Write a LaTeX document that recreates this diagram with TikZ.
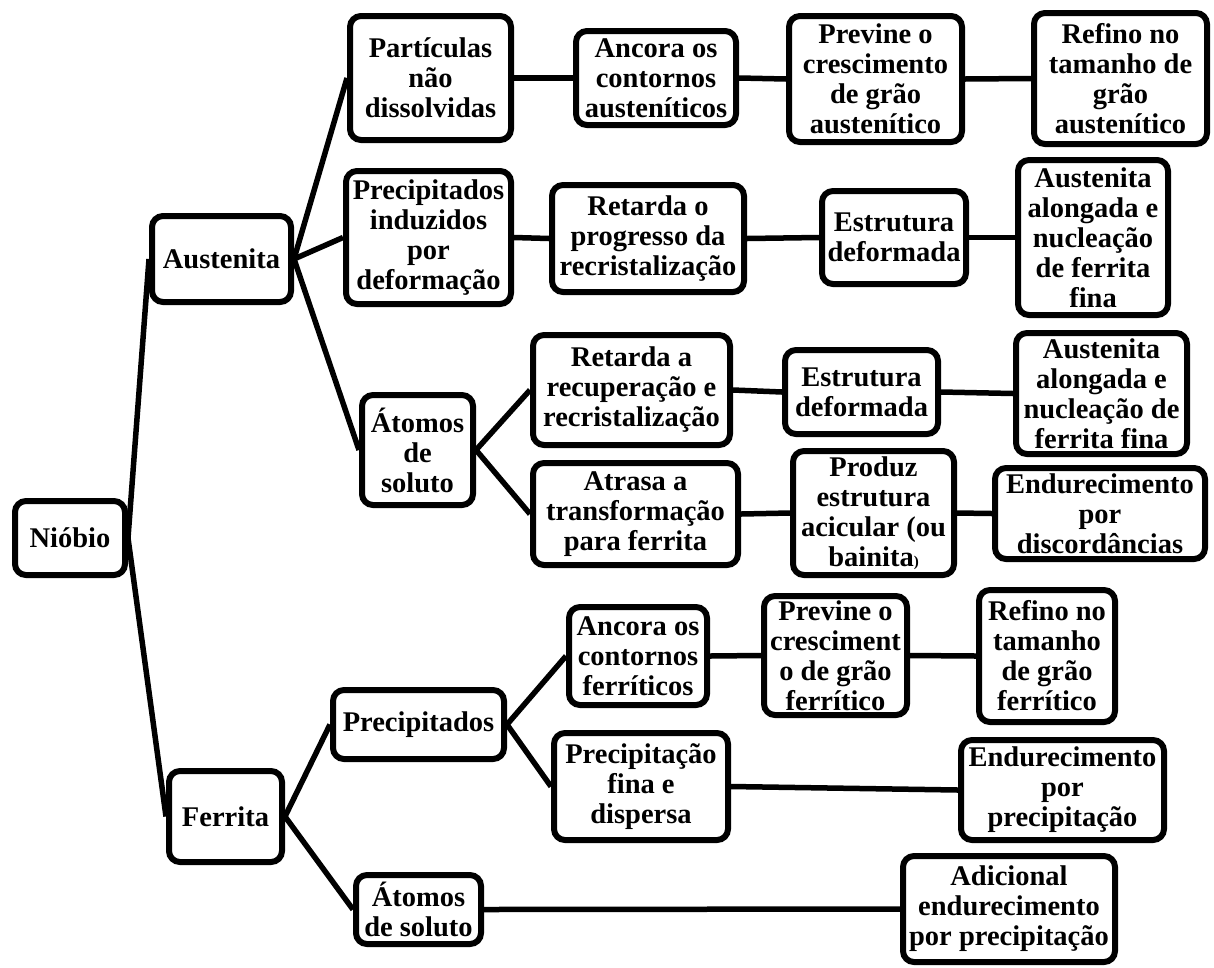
\documentclass[tikz,border=0pt]{standalone}
\usepackage{fontspec}
\setmainfont{Liberation Serif}
\usepackage{tikz}

\tikzset{
  box/.style={draw, line width=6pt, rounded corners=11pt, fill=white, align=center,
    inner sep=1pt, font=\bfseries\fontsize{28.5}{30}\selectfont},
  link/.style={line width=5.5pt}
}

\begin{document}
\begin{tikzpicture}[x=1pt,y=-1pt]
        \useasboundingbox (0,0) rectangle (1214,967);
        \node [box, minimum width=110, minimum height=74] (niobio) at (70,538) {Nióbio};
        \node [box, minimum width=139, minimum height=86] (austenita) at (221.5,259) {Austenita};
        \node [box, minimum width=113, minimum height=91] (ferrita) at (225.5,816.5) {Ferrita};

        \node [box, minimum width=161, minimum height=124] (particulas) at (430.5,78) {Partículas\\não\\dissolvidas};
        \node [box, minimum width=165, minimum height=133] (precind) at (428.5,237.5) {Precipitados\\induzidos\\por\\deformação};
        \node [box, minimum width=111, minimum height=110] (atomosA) at (417.5,450) {Átomos\\de\\soluto};
        \node [box, minimum width=171, minimum height=69] (precF) at (418.5,724.5) {Precipitados};
        \node [box, minimum width=125, minimum height=69] (atomosF) at (418.5,909.5) {Átomos\\de soluto};

        \node [box, minimum width=160, minimum height=94] (ancoraA) at (656,78) {Ancora os\\contornos\\austeníticos};
        \node [box, minimum width=173, minimum height=126] (previneA) at (875.5,79) {Previne o\\crescimento\\de grão\\austenítico};
        \node [box, minimum width=173, minimum height=131] (refinoA) at (1120.5,78.5) {Refino no\\tamanho de\\grão\\austenítico};

        \node [box, minimum width=192, minimum height=107] (retardaP) at (648,238.5) {Retarda o\\progresso da\\recristalização};
        \node [box, minimum width=144, minimum height=93] (estrA) at (894,237.5) {Estrutura\\deformada};
        \node [box, minimum width=150, minimum height=155] (alongA) at (1093,237.5) {Austenita\\alongada e\\nucleação\\de ferrita\\fina};

        \node [box, minimum width=197, minimum height=110] (retardaR) at (631.5,390) {Retarda a\\recuperação e\\recristalização};
        \node [box, minimum width=153, minimum height=84] (estrB) at (861.5,392) {Estrutura\\deformada};
        \node [box, minimum width=171, minimum height=121] (alongB) at (1101.5,393.5) {Austenita\\alongada e\\nucleação de\\ferrita fina};

        \node [box, minimum width=205, minimum height=102] (atrasa) at (635.5,514) {Atrasa a\\transformação\\para ferrita};
        \node [box, minimum width=161, minimum height=124] (produz) at (873.5,513) {Produz\\estrutura\\acicular (ou\\bainita{\fontsize{15}{15}\selectfont)}};
        \node [box, minimum width=210, minimum height=91] (endDisc) at (1100,513.5) {Endurecimento\\por\\discordâncias};

        \node [box, minimum width=138, minimum height=98] (ancoraF) at (638,656) {Ancora os\\contornos\\ferríticos};
        \node [box, minimum width=143, minimum height=119] (previneF) at (835.5,655.5) {Previne o\\cresciment\\o de grão\\ferrítico};
        \node [box, minimum width=136, minimum height=132] (refinoF) at (1047,656) {Refino no\\tamanho\\de grão\\ferrítico};

        \node [box, minimum width=174, minimum height=107] (precFina) at (641,786.5) {Precipitação\\fina e\\dispersa};
        \node [box, minimum width=203, minimum height=100] (endPrec) at (1062.5,790) {Endurecimento\\por\\precipitação};

        \node [box, minimum width=212, minimum height=106] (adicional) at (1009,909) {Adicional\\endurecimento\\por precipitação};

        \draw [link] (niobio.east) -- (austenita.west);
        \draw [link] (niobio.east) -- (ferrita.west);
        \draw [link] (austenita.east) -- (particulas.west);
        \draw [link] (austenita.east) -- (precind.west);
        \draw [link] (austenita.east) -- (atomosA.west);
        \draw [link] (particulas.east) -- (ancoraA.west);
        \draw [link] (ancoraA.east) -- (previneA.west);
        \draw [link] (previneA.east) -- (refinoA.west);
        \draw [link] (precind.east) -- (retardaP.west);
        \draw [link] (retardaP.east) -- (estrA.west);
        \draw [link] (estrA.east) -- (alongA.west);
        \draw [link] (atomosA.east) -- (retardaR.west);
        \draw [link] (atomosA.east) -- (atrasa.west);
        \draw [link] (retardaR.east) -- (estrB.west);
        \draw [link] (estrB.east) -- (alongB.west);
        \draw [link] (atrasa.east) -- (produz.west);
        \draw [link] (produz.east) -- (endDisc.west);
        \draw [link] (ferrita.east) -- (precF.west);
        \draw [link] (ferrita.east) -- (atomosF.west);
        \draw [link] (precF.east) -- (ancoraF.west);
        \draw [link] (precF.east) -- (precFina.west);
        \draw [link] (ancoraF.east) -- (previneF.west);
        \draw [link] (previneF.east) -- (refinoF.west);
        \draw [link] (precFina.east) -- (endPrec.west);
        \draw [link] (atomosF.east) -- (adicional.west);
    \end{tikzpicture}
\end{document}
